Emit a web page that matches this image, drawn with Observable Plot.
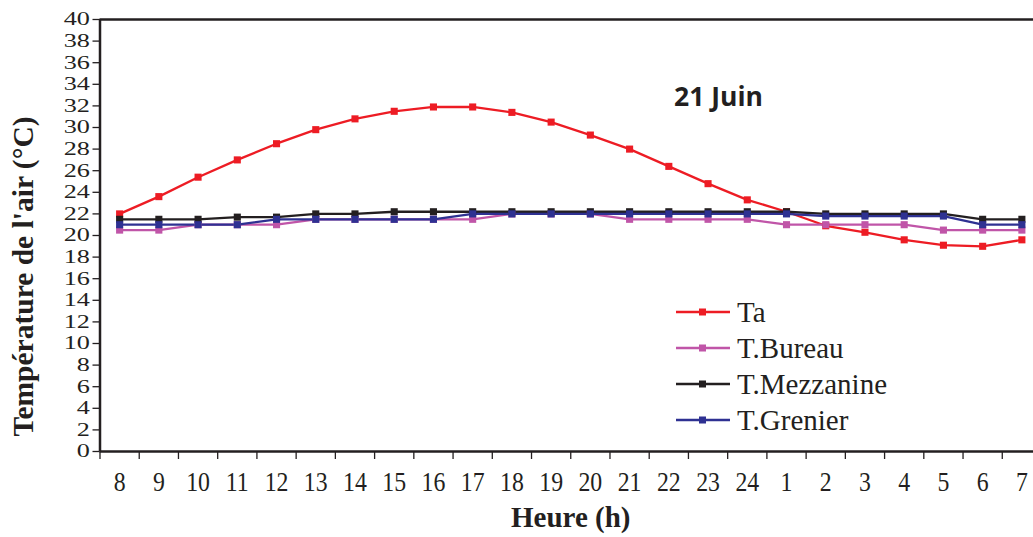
<!DOCTYPE html>
<html><head><meta charset="utf-8">
<script src="https://cdn.jsdelivr.net/npm/d3@7"></script>
<script src="https://cdn.jsdelivr.net/npm/@observablehq/plot@0.6"></script>
<style>
body{margin:0;background:#fff;}
#wrap{position:relative;width:1033px;height:537px;overflow:hidden;}
#title{position:absolute;left:674px;top:78px;font:bold 26.5px "Open Sans";color:#231f20;white-space:nowrap;}
#legend{position:absolute;left:676px;top:294px;font:29px "Liberation Serif";color:#231f20;}
#legend .row{height:36px;display:flex;align-items:center;white-space:nowrap;}
#legend svg{margin-right:7px;}
</style></head><body><div id="wrap"><div id="title">21 Juin</div><div id="legend"></div></div>
<script>
const hours = ["8","9","10","11","12","13","14","15","16","17","18","19","20","21","22","23","24","1","2","3","4","5","6","7"];
const seriesNames = ["Ta","T.Bureau","T.Mezzanine","T.Grenier"];
const seriesColors = ["#ed1c24","#c055a8","#231f20","#2e3192"];
const ta = [22, 23.6, 25.4, 27.0, 28.5, 29.8, 30.8, 31.5, 31.9, 31.9, 31.4, 30.5, 29.3, 28.0, 26.4, 24.8, 23.3, 22.2, 20.9, 20.3, 19.6, 19.1, 19.0, 19.6];
const bureau = [20.5, 20.5, 21, 21, 21, 21.5, 21.5, 21.5, 21.5, 21.5, 22, 22, 22, 21.5, 21.5, 21.5, 21.5, 21, 21, 21, 21, 20.5, 20.5, 20.5];
const mezzanine = [21.5, 21.5, 21.5, 21.7, 21.7, 22, 22, 22.2, 22.2, 22.2, 22.2, 22.2, 22.2, 22.2, 22.2, 22.2, 22.2, 22.2, 22, 22, 22, 22, 21.5, 21.5];
const grenier = [21, 21, 21, 21, 21.5, 21.5, 21.5, 21.5, 21.5, 22, 22, 22, 22, 22, 22, 22, 22, 22, 21.8, 21.8, 21.8, 21.8, 21, 21];
const yTicks = d3.range(0, 41, 2);

const allValues = [ta, bureau, mezzanine, grenier];
const rows = [];
allValues.forEach((vals, s) => vals.forEach((v, i) => rows.push({i, hour: hours[i], series: seriesNames[s], value: v})));
const idx = hours.map((h, i) => i);
const bounds = d3.range(-0.5, hours.length, 1);

const chart = Plot.plot({
  width: 1033, height: 537,
  marginLeft: 99.5, marginRight: -8, marginTop: 19, marginBottom: 86,
  style: {fontFamily: "Liberation Serif", color: "#231f20", background: "transparent"},
  x: {domain: [-0.5, hours.length - 0.5]},
  y: {domain: [0, 40]},
  color: {domain: seriesNames, range: seriesColors},
  marks: [
    Plot.axisY({ticks: yTicks, tickSize: 7, tickPadding: 3, fontSize: 18.5, label: null, stroke: "#231f20", strokeWidth: 1.3}),
    Plot.axisX({ticks: bounds, tickSize: 8, tickFormat: () => "", label: null, stroke: "#231f20", strokeWidth: 1.3}),
    Plot.axisX({ticks: idx, tickSize: 0, tickPadding: 20, tickFormat: i => hours[i], fontSize: 28, label: null}),
    Plot.ruleY([0], {stroke: "#231f20", strokeWidth: 2.5}),
    Plot.ruleY([40], {stroke: "#231f20", strokeWidth: 2.5}),
    Plot.ruleX([-0.5], {stroke: "#231f20", strokeWidth: 2.5}),
    Plot.line(rows, {x: "i", y: "value", z: "series", stroke: "series", strokeWidth: 2.3}),
    Plot.dot(rows, {x: "i", y: "value", fill: "series", symbol: "square", r: 4, stroke: null}),
    Plot.text(["Température de l'air (°C)"], {frameAnchor: "left", textAnchor: "middle", rotate: -90, dx: -76.5, dy: 41, fontSize: 29.5, fontWeight: "bold", fill: "#231f20"}),
    Plot.text(["Heure (h)"], {frameAnchor: "bottom", dy: 75, fontSize: 29, fontWeight: "bold", fill: "#231f20"})
  ]
});
const wrap = document.getElementById("wrap");
wrap.insertBefore(chart, wrap.firstChild);

function stretch(sel, sx) {
  chart.querySelectorAll(sel).forEach(t => {
    let tr = t.getAttribute("transform");
    if (!tr) {
      const x = t.getAttribute("x") || 0, y = t.getAttribute("y") || 0;
      t.removeAttribute("x"); t.removeAttribute("y");
      tr = `translate(${x},${y})`;
    }
    t.setAttribute("transform", `${tr} scale(${sx},1)`);
  });
}
stretch('g[aria-label="y-axis tick label"] text', 1.42);
stretch('g[aria-label="x-axis tick label"] text', 0.85);

const legend = document.getElementById("legend");
seriesNames.forEach((name, s) => {
  const row = document.createElement("div");
  row.className = "row";
  row.innerHTML = `<svg width="54" height="10"><line x1="0" y1="5" x2="54" y2="5" stroke="${seriesColors[s]}" stroke-width="2.3"/><rect x="23" y="1.5" width="7" height="7" fill="${seriesColors[s]}"/></svg><span>${name}</span>`;
  legend.appendChild(row);
});
</script>
</body></html>
